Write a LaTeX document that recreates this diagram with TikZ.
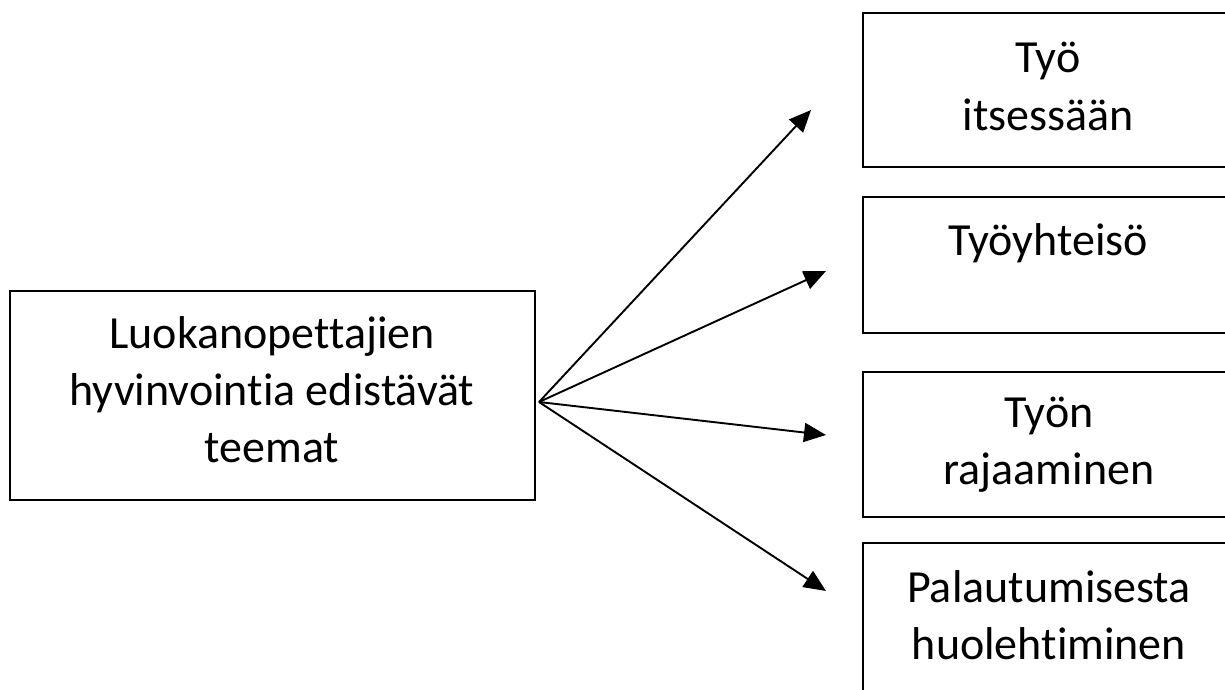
\documentclass[tikz,border=0pt]{standalone}
\usepackage{fontspec}
\setmainfont{Carlito}[RawFeature={-liga}]
\usetikzlibrary{arrows.meta}
\tikzset{
  boxnode/.style={draw=black, line width=2pt, inner sep=0pt, outer sep=0pt},
  txt/.style={align=center, inner sep=0pt, anchor=base, font=\fontsize{46}{57}\selectfont},
  conn/.style={line width=1.9pt, -{Triangle[length=22pt,width=19pt]}}
}
\begin{document}
\begin{tikzpicture}[x=1pt,y=-1pt]
\useasboundingbox (0,0) rectangle (1225,690);
\clip (0,0) rectangle (1225,690);
\fill[white] (0,0) rectangle (1225,690);
% boxes
\node[boxnode, minimum width=525pt, minimum height=209pt] (src) at (272.5,395.5) {};
\node[boxnode, minimum width=370pt, minimum height=154pt] (b1) at (1048,90) {};
\node[boxnode, minimum width=370pt, minimum height=136pt] (b2) at (1048,265) {};
\node[boxnode, minimum width=370pt, minimum height=145pt] (b3) at (1048,444.5) {};
\node[boxnode, minimum width=370pt, minimum height=157pt] (b4) at (1048,621.5) {};
% texts (anchored at the baseline of their last line)
\node[txt] (tsrc) at (272,462) {Luokanopettajien\\hyvinvointia edistävät\\teemat};
\node[txt] (t1) at (1048,130) {Työ\\itsessään};
\node[txt] (t2) at (1048,255) {Työyhteisö};
\node[txt] (t3) at (1049,484) {Työn\\rajaaminen};
\node[txt] (t4) at (1049,659) {Palautumisesta\\huolehtiminen};
% connectors
\coordinate (o) at (539,402);
\coordinate (e1) at (811,110);
\coordinate (e2) at (826,271);
\coordinate (e3) at (826,435);
\coordinate (e4) at (826,591);
\draw[conn] (o) -- (e1);
\draw[conn] (o) -- (e2);
\draw[conn] (o) -- (e3);
\draw[conn] (o) -- (e4);
\end{tikzpicture}
\end{document}
